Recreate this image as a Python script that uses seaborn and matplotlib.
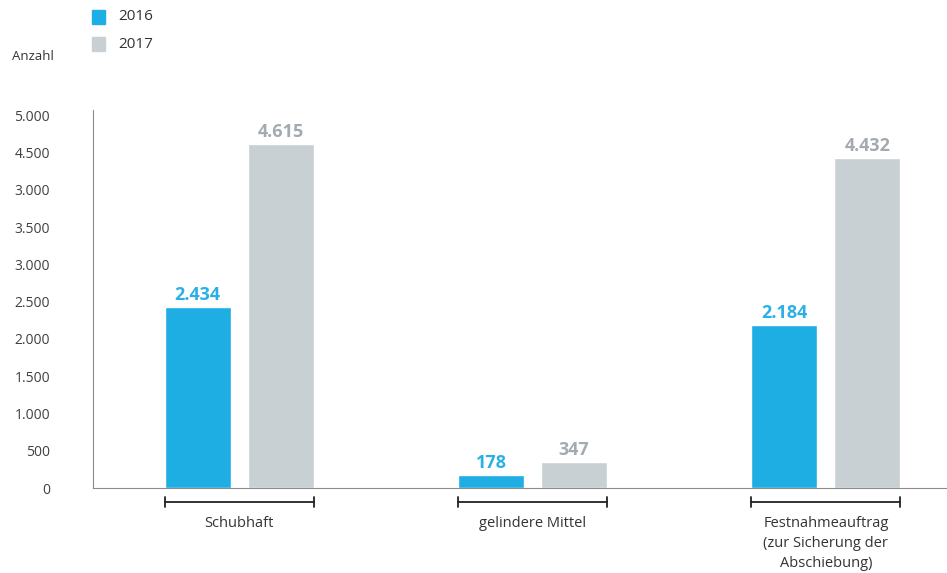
import pandas as pd
import seaborn as sns
import matplotlib.pyplot as plt
import matplotlib.transforms as mtransforms

categories = ["Schubhaft", "gelindere Mittel", "Festnahmeauftrag\n(zur Sicherung der\nAbschiebung)"]
years = ["2016", "2017"]
values_2016 = [2434, 178, 2184]
values_2017 = [4615, 347, 4432]
value_labels_2016 = ["2.434", "178", "2.184"]
value_labels_2017 = ["4.615", "347", "4.432"]
y_ticks = [0, 500, 1000, 1500, 2000, 2500, 3000, 3500, 4000, 4500, 5000]
y_tick_labels = ["0", "500", "1.000", "1.500", "2.000", "2.500", "3.000", "3.500", "3.000", "4.500", "5.000"]

colors = {"2016": "#1eaee3", "2017": "#c8d0d4"}

df = pd.DataFrame({
    "Kategorie": categories * 2,
    "Jahr": ["2016"] * 3 + ["2017"] * 3,
    "Anzahl": values_2016 + values_2017,
})

sns.set_style("white")
plt.rcParams["font.family"] = ["Open Sans", "DejaVu Sans"]

fig = plt.figure(figsize=(9.47, 5.73), dpi=100)
ax = fig.add_axes([93 / 947, 1 - 488 / 573, (947 - 93) / 947, (488 - 110) / 573])

width = 0.566
gap = 0.205
sns.barplot(data=df, x="Kategorie", y="Anzahl", hue="Jahr", palette=colors,
            width=width, gap=gap, ax=ax, legend=False, saturation=1)

ax.set_xlim(-0.498, 2.413)
ax.set_ylim(0, 5070)
ax.set_yticks(y_ticks)
ax.set_yticklabels(y_tick_labels)
ax.tick_params(axis="y", length=0, pad=31, labelsize=10, labelcolor="#404040")
ax.set_xticks([])
ax.set_xlabel("")
ax.set_ylabel("")

for side in ["top", "right"]:
    ax.spines[side].set_visible(False)
ax.spines["left"].set_color("#8c8c8c")
ax.spines["bottom"].set_color("#8c8c8c")

# value labels
for container, labels, year in zip(ax.containers, [value_labels_2016, value_labels_2017], years):
    ax.bar_label(container, labels=labels, padding=2, fontsize=13, fontweight="bold",
                 color="#2ab0e4" if year == "2016" else "#a3abb0")

# brackets and category labels
trans = mtransforms.blended_transform_factory(ax.transData, ax.transAxes)
half = width / 2 - (width / 2) * gap / 2
for i, cat in enumerate(categories):
    x0, x1 = i - half, i + half
    ax.plot([x0, x1], [-0.037, -0.037], color="#222222", lw=1.3, transform=trans, clip_on=False)
    for xe in (x0, x1):
        ax.plot([xe, xe], [-0.05, -0.024], color="#222222", lw=1.3, transform=trans, clip_on=False)
    ax.text(i, -0.075, cat, ha="center", va="top", fontsize=10.5, color="#333333",
            transform=trans, linespacing=1.45)

# legend
for j, year in enumerate(years):
    yy = 1 - (17 + 27 * j) / 573
    fig.patches.append(plt.Rectangle((92 / 947, yy - 7 / 573), 13 / 947, 14 / 573,
                                     transform=fig.transFigure, color=colors[year]))
    fig.text(118 / 947, yy, year, ha="left", va="center", fontsize=11, color="#333333")

fig.text(12 / 947, 1 - 57 / 573, "Anzahl", ha="left", va="center", fontsize=9.5, color="#333333")

fig.savefig("out.png", dpi=100)
